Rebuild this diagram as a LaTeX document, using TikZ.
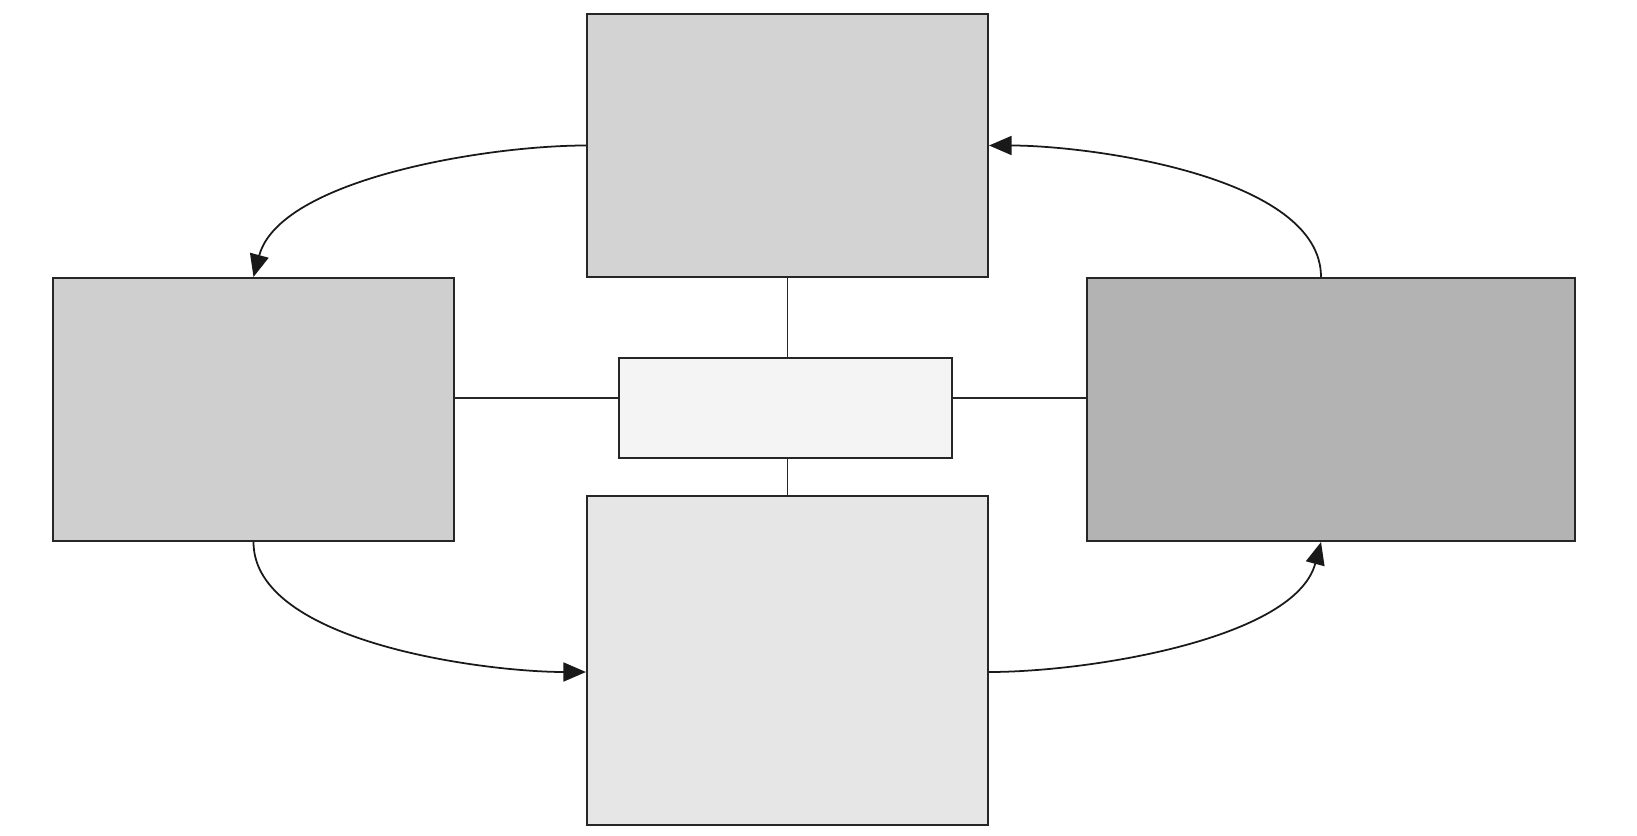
\documentclass[tikz,border=0pt]{standalone}
\usepackage{tikz}
\usepackage{xcolor}
\usetikzlibrary{arrows.meta, positioning, calc}

\definecolor{boxtop}{HTML}{D3D3D3}
\definecolor{boxleft}{HTML}{CFCFCF}
\definecolor{boxright}{HTML}{B3B3B3}
\definecolor{boxbottom}{HTML}{E6E6E6}
\definecolor{boxhub}{HTML}{F4F4F4}

\tikzset{
    panel/.style={draw=black!85, line width=1.2pt, inner sep=0pt},
    link/.style={line width=1.1pt, black!85},
    cycle/.style={line width=1pt, black!90, -{Triangle[length=4.5mm, width=3.8mm]}}
}

\begin{document}
\begin{tikzpicture}
    % Frame with the size of the picture
    \useasboundingbox (0,0) rectangle (32.74,-16.72);

    % The four outer panels
    \node[panel, fill=boxtop, minimum width=8.02cm, minimum height=5.26cm] (upper) at (15.75,-2.91) {};
    \node[panel, fill=boxleft, minimum width=8.02cm, minimum height=5.26cm] (west) at (5.07,-8.19) {};
    \node[panel, fill=boxright, minimum width=9.76cm, minimum height=5.26cm] (east) at (26.62,-8.19) {};
    \node[panel, fill=boxbottom, minimum width=8.02cm, minimum height=6.58cm] (lower) at (15.75,-13.21) {};

    % Hub in the middle
    \node[panel, fill=boxhub, minimum width=6.66cm, minimum height=2.0cm] (hub) at (15.71,-8.16) {};

    % Spokes to the hub
    \draw[link] (upper.south) -- (upper.south |- hub.north);
    \draw[link] (lower.north) -- (lower.north |- hub.south);
    \draw[link] ([yshift=0.23cm]west.east) -- ([yshift=0.2cm]hub.west);
    \draw[link] ([yshift=0.2cm]hub.east) -- ([yshift=0.23cm]east.west);

    % Cycle round the panels
    \draw[cycle] (upper.west) to[out=180, in=75, looseness=0.72] (west.north);
    \draw[cycle] (west.south) to[out=-90, in=180, looseness=0.72] ([yshift=-0.23cm]lower.west);
    \draw[cycle] ([yshift=-0.23cm]lower.east) to[out=0, in=-105, looseness=0.72] ([xshift=-0.2cm]east.south);
    \draw[cycle] ([xshift=-0.2cm]east.north) to[out=90, in=0, looseness=0.72] (upper.east);

\end{tikzpicture}
\end{document}
